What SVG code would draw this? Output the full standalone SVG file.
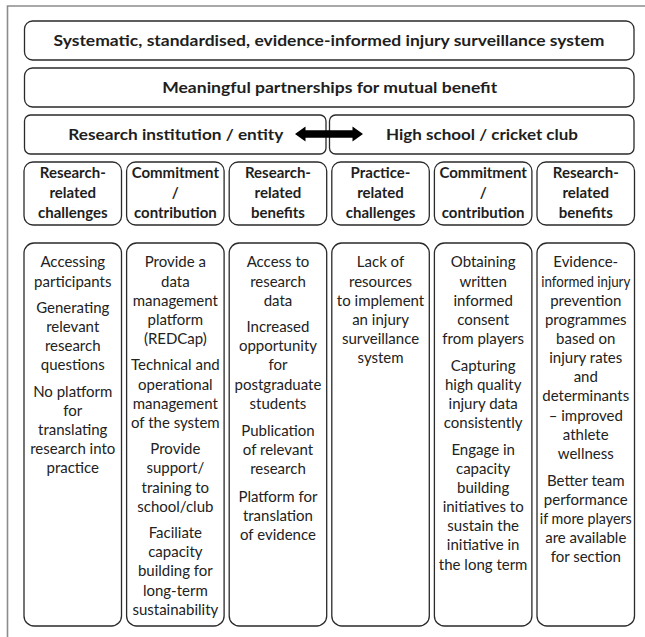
<svg xmlns="http://www.w3.org/2000/svg" width="645" height="637" viewBox="0 0 645 637">
<defs>
<style>
.box{fill:#fff;stroke:#2a2a2a;stroke-width:1.3}
.frame{fill:none;stroke:#8c8c8c;stroke-width:1.6}
.t{font-family:Lato,"Liberation Sans",sans-serif;font-size:15px;fill:#222;text-anchor:middle}
.b{font-family:Lato,"Liberation Sans",sans-serif;font-size:15px;font-weight:bold;fill:#1e1e1e;text-anchor:middle}
.arrow{fill:#000}
</style>
</defs>
<rect width="645" height="637" fill="#fff"/>
<path class="frame" d="M7.5,637 V6 H645"/>

<g id="system">
<rect class="box" x="24.5" y="21" width="609.5" height="39" rx="8"/>
<text class="b" x="329" y="46" textLength="551" lengthAdjust="spacingAndGlyphs">Systematic, standardised, evidence-informed injury surveillance system</text>
</g>
<g id="partnerships">
<rect class="box" x="24.5" y="68" width="609.5" height="39" rx="8"/>
<text class="b" x="329.7" y="93" textLength="335" lengthAdjust="spacingAndGlyphs">Meaningful partnerships for mutual benefit</text>
</g>
<g id="research-institution">
<rect class="box" x="24.5" y="115" width="301.5" height="39" rx="6"/>
<text class="b" x="175.8" y="139.5" textLength="215" lengthAdjust="spacingAndGlyphs">Research institution / entity</text>
</g>
<g id="high-school">
<rect class="box" x="329.5" y="115" width="304.5" height="39" rx="6"/>
<text class="b" x="482" y="139.5" textLength="192" lengthAdjust="spacingAndGlyphs">High school / cricket club</text>
</g>

<g id="h1">
<rect class="box" x="24" y="162" width="97.5" height="63" rx="9"/>
<text class="b" x="72.75" y="178">Research-</text>
<text class="b" x="72.75" y="198">related</text>
<text class="b" x="72.75" y="218">challenges</text>
</g>
<g id="h2">
<rect class="box" x="126.6" y="162" width="97.5" height="63" rx="9"/>
<text class="b" x="175.35" y="178">Commitment</text>
<text class="b" x="175.35" y="198">/</text>
<text class="b" x="175.35" y="218">contribution</text>
</g>
<g id="h3">
<rect class="box" x="229.2" y="162" width="97.5" height="63" rx="9"/>
<text class="b" x="277.95" y="178">Research-</text>
<text class="b" x="277.95" y="198">related</text>
<text class="b" x="277.95" y="218">benefits</text>
</g>
<g id="h4">
<rect class="box" x="331.8" y="162" width="97.5" height="63" rx="9"/>
<text class="b" x="380.55" y="178">Practice-</text>
<text class="b" x="380.55" y="198">related</text>
<text class="b" x="380.55" y="218">challenges</text>
</g>
<g id="h5">
<rect class="box" x="434.4" y="162" width="97.5" height="63" rx="9"/>
<text class="b" x="483.15" y="178">Commitment</text>
<text class="b" x="483.15" y="198">/</text>
<text class="b" x="483.15" y="218">contribution</text>
</g>
<g id="h6">
<rect class="box" x="537" y="162" width="97.5" height="63" rx="9"/>
<text class="b" x="585.75" y="178">Research-</text>
<text class="b" x="585.75" y="198">related</text>
<text class="b" x="585.75" y="218">benefits</text>
</g>

<g id="c1">
<rect class="box" x="24" y="243" width="97.5" height="383" rx="10"/>
<text class="t" x="72.75" y="267.3">Accessing</text>
<text class="t" x="72.75" y="286.5">participants</text>
<text class="t" x="72.75" y="312.9">Generating</text>
<text class="t" x="72.75" y="332">relevant</text>
<text class="t" x="72.75" y="351.2">research</text>
<text class="t" x="72.75" y="370.3">questions</text>
<text class="t" x="72.75" y="396.7">No platform</text>
<text class="t" x="72.75" y="415.9">for</text>
<text class="t" x="72.75" y="435">translating</text>
<text class="t" x="72.75" y="454.2">research into</text>
<text class="t" x="72.75" y="473.3">practice</text>
</g>
<g id="c2">
<rect class="box" x="126.6" y="243" width="97.5" height="383" rx="10"/>
<text class="t" x="175.35" y="267.3">Provide a</text>
<text class="t" x="175.35" y="286.5">data</text>
<text class="t" x="175.35" y="305.6">management</text>
<text class="t" x="175.35" y="324.8">platform</text>
<text class="t" x="175.35" y="343.9">(REDCap)</text>
<text class="t" x="175.35" y="370.3">Technical and</text>
<text class="t" x="175.35" y="389.5">operational</text>
<text class="t" x="175.35" y="408.6">management</text>
<text class="t" x="175.35" y="427.8">of the system</text>
<text class="t" x="175.35" y="454.2">Provide</text>
<text class="t" x="175.35" y="473.3">support/</text>
<text class="t" x="175.35" y="492.5">training to</text>
<text class="t" x="175.35" y="511.6">school/club</text>
<text class="t" x="175.35" y="538">Faciliate</text>
<text class="t" x="175.35" y="557.2">capacity</text>
<text class="t" x="175.35" y="576.3">building for</text>
<text class="t" x="175.35" y="595.5">long-term</text>
<text class="t" x="175.35" y="614.6">sustainability</text>
</g>
<g id="c3">
<rect class="box" x="229.2" y="243" width="97.5" height="383" rx="10"/>
<text class="t" x="277.95" y="267.3">Access to</text>
<text class="t" x="277.95" y="286.5">research</text>
<text class="t" x="277.95" y="305.6">data</text>
<text class="t" x="277.95" y="332">Increased</text>
<text class="t" x="277.95" y="351.2">opportunity</text>
<text class="t" x="277.95" y="370.3">for</text>
<text class="t" x="277.95" y="389.5">postgraduate</text>
<text class="t" x="277.95" y="408.6">students</text>
<text class="t" x="277.95" y="435.5">Publication</text>
<text class="t" x="277.95" y="454.6">of relevant</text>
<text class="t" x="277.95" y="473.8">research</text>
<text class="t" x="277.95" y="501.5">Platform for</text>
<text class="t" x="277.95" y="520.7">translation</text>
<text class="t" x="277.95" y="539.8">of evidence</text>
</g>
<g id="c4">
<rect class="box" x="331.8" y="243" width="97.5" height="383" rx="10"/>
<text class="t" x="380.55" y="267.3">Lack of</text>
<text class="t" x="380.55" y="286.5">resources</text>
<text class="t" x="380.55" y="305.6">to implement</text>
<text class="t" x="380.55" y="324.8">an injury</text>
<text class="t" x="380.55" y="343.9">surveillance</text>
<text class="t" x="380.55" y="363.1">system</text>
</g>
<g id="c5">
<rect class="box" x="434.4" y="243" width="97.5" height="383" rx="10"/>
<text class="t" x="483.15" y="267.3">Obtaining</text>
<text class="t" x="483.15" y="286.5">written</text>
<text class="t" x="483.15" y="305.6">informed</text>
<text class="t" x="483.15" y="324.8">consent</text>
<text class="t" x="483.15" y="343.9">from players</text>
<text class="t" x="483.15" y="370.8">Capturing</text>
<text class="t" x="483.15" y="389.9">high quality</text>
<text class="t" x="483.15" y="409.1">injury data</text>
<text class="t" x="483.15" y="428.2">consistently</text>
<text class="t" x="483.15" y="454.6">Engage in</text>
<text class="t" x="483.15" y="473.8">capacity</text>
<text class="t" x="483.15" y="492.9">building</text>
<text class="t" x="483.15" y="512.1">initiatives to</text>
<text class="t" x="483.15" y="531.2">sustain the</text>
<text class="t" x="483.15" y="550.4">initiative in</text>
<text class="t" x="483.15" y="569.5">the long term</text>
</g>
<g id="c6">
<rect class="box" x="537" y="243" width="97.5" height="383" rx="10"/>
<text class="t" x="585.75" y="267.3">Evidence-</text>
<text class="t" x="585.75" y="286.5" textLength="89" lengthAdjust="spacingAndGlyphs">informed injury</text>
<text class="t" x="585.75" y="305.6">prevention</text>
<text class="t" x="585.75" y="324.8">programmes</text>
<text class="t" x="585.75" y="343.9">based on</text>
<text class="t" x="585.75" y="363.1">injury rates</text>
<text class="t" x="585.75" y="382.2">and</text>
<text class="t" x="585.75" y="401.4">determinants</text>
<text class="t" x="585.75" y="420.5">– improved</text>
<text class="t" x="585.75" y="439.7">athlete</text>
<text class="t" x="585.75" y="458.8">wellness</text>
<text class="t" x="585.75" y="485.7">Better team</text>
<text class="t" x="585.75" y="504.8">performance</text>
<text class="t" x="585.75" y="524" textLength="92" lengthAdjust="spacingAndGlyphs">if more players</text>
<text class="t" x="585.75" y="543.1">are available</text>
<text class="t" x="585.75" y="562.3">for section</text>
</g>

<g id="connectors">
<polygon class="arrow" points="295,134 305.5,126.5 305.5,130.2 352.5,130.2 352.5,126.5 363,134 352.5,141.5 352.5,137.8 305.5,137.8 305.5,141.5"/>
</g>
</svg>
